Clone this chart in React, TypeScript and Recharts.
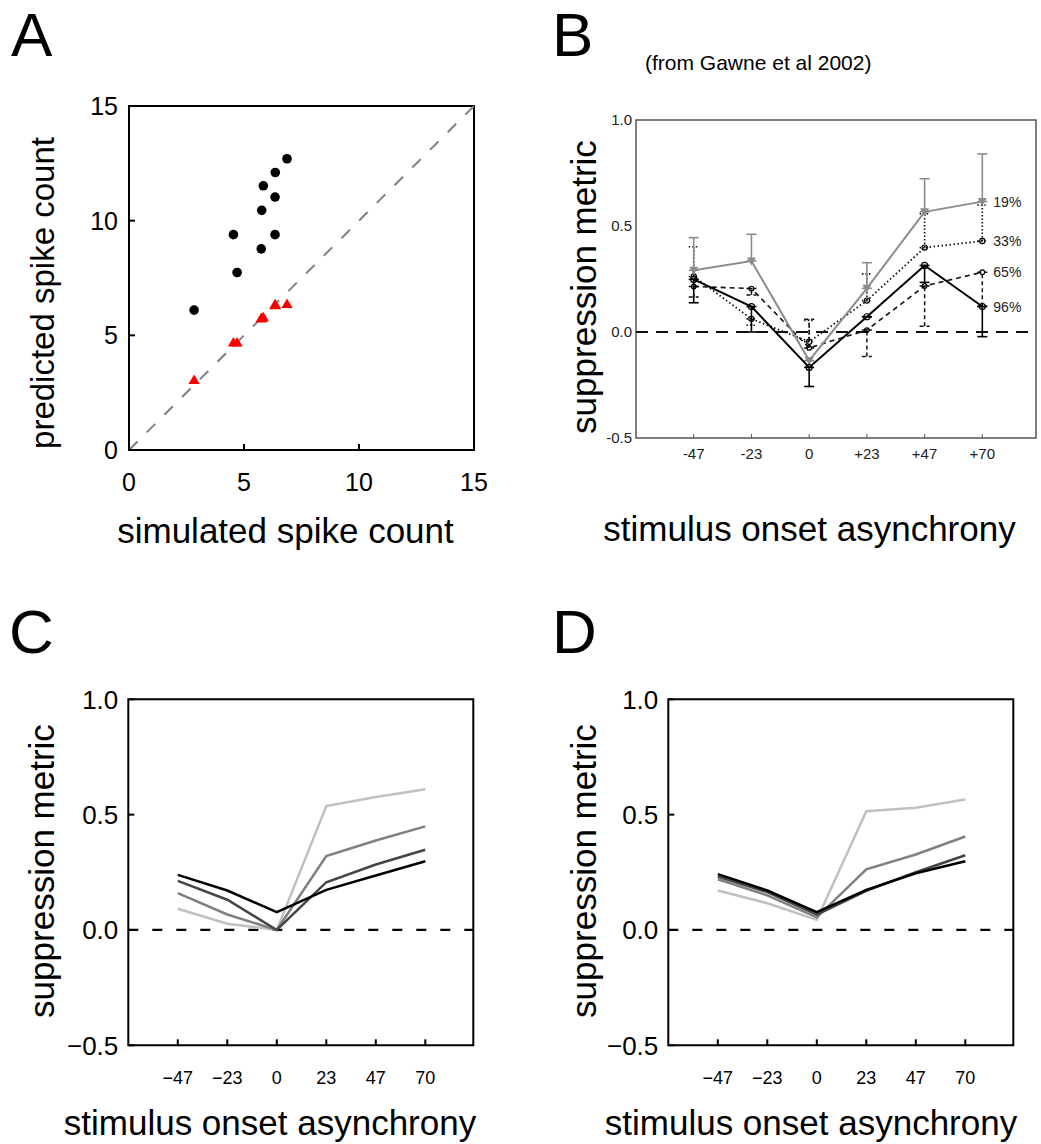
import React from 'react';
import {
  ScatterChart,
  Scatter,
  LineChart,
  Line,
  XAxis,
  YAxis,
  ReferenceLine,
  ReferenceArea,
  ErrorBar,
  LabelList,
} from 'recharts';

const FONT = '"Liberation Sans", Arial, Helvetica, sans-serif';

// ---------- Panel A: predicted vs simulated spike counts ----------
const simulatedCounts = [6.87, 6.36, 5.84, 6.35, 5.77, 4.54, 6.35, 5.75, 4.70, 2.83];
const predictedLinear = [12.7, 12.1, 11.52, 11.03, 10.45, 9.39, 9.39, 8.77, 7.74, 6.1];
const predictedNormalized = [6.38, 6.35, 5.8, 6.33, 5.75, 4.7, 6.36, 5.77, 4.7, 3.07];
const countTicks = [0, 5, 10, 15];

// ---------- Panel B: Gawne et al. 2002 ----------
const gawneAsynchrony = ['-47', '-23', '0', '+23', '+47', '+70'];
const gawneContrasts = ['19%', '33%', '65%', '96%'];
const gawne19 = [0.291, 0.335, -0.135, 0.206, 0.567, 0.615];
const gawne19Low = [0, 0, 0, 0, 0, 0];
const gawne19High = [0.154, 0.126, 0, 0.121, 0.156, 0.225];
const gawne33 = [0.262, 0.062, -0.046, 0.148, 0.398, 0.429];
const gawne33Low = [0, 0.03, 0, 0, 0, 0];
const gawne33High = [0.14, 0, 0.1, 0.126, 0.16, 0.17];
const gawne65 = [0.215, 0.205, -0.075, 0.009, 0.217, 0.282];
const gawne65Low = [0.05, 0.03, 0, 0.125, 0.19, 0.16];
const gawne65High = [0, 0, 0.135, 0, 0, 0];
const gawne96 = [0.248, 0.12, -0.167, 0.072, 0.314, 0.12];
const gawne96Low = [0.11, 0.12, 0.09, 0, 0.08, 0.142];
const gawne96High = [0, 0, 0, 0, 0, 0];
const metricTicks = [-0.5, 0, 0.5, 1.0];

// ---------- Panels C & D: model suppression metric ----------
const modelAsynchrony = ['\u221247', '\u221223', '0', '23', '47', '70'];
const modelC19 = [0.092, 0.027, 0.0, 0.537, 0.576, 0.61];
const modelC33 = [0.16, 0.067, 0.0, 0.32, 0.388, 0.449];
const modelC65 = [0.213, 0.131, 0.0, 0.207, 0.284, 0.348];
const modelC96 = [0.239, 0.171, 0.077, 0.174, 0.236, 0.298];
const modelD19 = [0.171, 0.116, 0.044, 0.515, 0.53, 0.566];
const modelD33 = [0.22, 0.15, 0.055, 0.263, 0.327, 0.405];
const modelD65 = [0.232, 0.164, 0.067, 0.17, 0.25, 0.324];
const modelD96 = [0.242, 0.171, 0.077, 0.174, 0.246, 0.298];

const contrastColors = ['#c0c0c0', '#808080', '#454545', '#000000'];

const scatterCircles = simulatedCounts.map((x, i) => ({ x, y: predictedLinear[i] }));
const scatterTriangles = simulatedCounts.map((x, i) => ({ x, y: predictedNormalized[i] }));

const gawneRows = gawneAsynchrony.map((_, i) => ({
  idx: i,
  c19: gawne19[i],
  c33: gawne33[i],
  c65: gawne65[i],
  c96: gawne96[i],
  e19: [gawne19Low[i], gawne19High[i]],
  e33: [gawne33Low[i], gawne33High[i]],
  e65: [gawne65Low[i], gawne65High[i]],
  e96: [gawne96Low[i], gawne96High[i]],
}));

const buildModelRows = (s19: number[], s33: number[], s65: number[], s96: number[]) =>
  modelAsynchrony.map((_, i) => ({ idx: i, c19: s19[i], c33: s33[i], c65: s65[i], c96: s96[i] }));

const rowsC = buildModelRows(modelC19, modelC33, modelC65, modelC96);
const rowsD = buildModelRows(modelD19, modelD33, modelD65, modelD96);
const indexTicks = [0, 1, 2, 3, 4, 5];

// ---------- text helpers ----------
const Letter = ({ ch, left, top }: { ch: string; left: number; top: number }) => (
  <div style={{ position: 'absolute', left, top, fontSize: 62, lineHeight: '70px' }}>{ch}</div>
);

const HTitle = ({ text, cx, top }: { text: string; cx: number; top: number }) => (
  <div
    style={{
      position: 'absolute',
      left: cx - 250,
      top,
      width: 500,
      textAlign: 'center',
      fontSize: 35,
      lineHeight: '40px',
      whiteSpace: 'nowrap',
    }}
  >
    {text}
  </div>
);

const VTitle = ({ text, cx, cy, size = 35 }: { text: string; cx: number; cy: number; size?: number }) => (
  <div
    style={{
      position: 'absolute',
      left: cx - 250,
      top: cy - 20,
      width: 500,
      height: 40,
      textAlign: 'center',
      fontSize: size,
      lineHeight: '40px',
      whiteSpace: 'nowrap',
      transform: 'rotate(-90deg)',
    }}
  >
    {text}
  </div>
);

// ---------- marker shapes ----------
const CircleMark = (props: any) => <circle cx={props.cx} cy={props.cy} r={4.8} fill="#000" />;
const TriangleMark = (props: any) => {
  const { cx, cy } = props;
  return <path d={`M${cx},${cy - 5.2} L${cx + 5.6},${cy + 4.3} L${cx - 5.6},${cy + 4.3} Z`} fill="#ff0000" />;
};
const downTriangleDot = (props: any) => {
  const { cx, cy, index } = props;
  return (
    <path
      key={`dt-${index}`}
      d={`M${cx - 4.5},${cy - 3.5} L${cx + 4.5},${cy - 3.5} L${cx},${cy + 4.5} Z`}
      fill="#8c8c8c"
    />
  );
};
const openDot = (r: number) => (props: any) => {
  const { cx, cy, index } = props;
  return <circle key={`od-${index}`} cx={cx} cy={cy} r={r} fill="none" stroke="#000" strokeWidth={1.2} />;
};
const endLabel = (text: string) => (props: any) => {
  const { x, y, index } = props;
  if (index !== gawneAsynchrony.length - 1) return null;
  return (
    <text x={Number(x) + 11} y={Number(y)} dy={5} fontSize={14} fill="#222" fontFamily={FONT}>
      {text}
    </text>
  );
};

const fmtMetric = (v: number) => (v < 0 ? '\u2212' + Math.abs(v).toFixed(1) : v.toFixed(1));

// ---------- panel C/D chart ----------
const ModelPanel = ({ rows, left, width, rightMargin }: { rows: any[]; left: number; width: number; rightMargin: number }) => (
  <div style={{ position: 'absolute', left, top: 680 }}>
    <LineChart
      width={width}
      height={464}
      data={rows}
      margin={{ top: 19.3, right: rightMargin, bottom: 58.7, left: 68.3 }}
    >
      <XAxis
        dataKey="idx"
        type="number"
        domain={[-1, 5.97]}
        ticks={indexTicks}
        tickFormatter={(v: number) => modelAsynchrony[v] ?? ''}
        height={40}
        axisLine={false}
        tickSize={-6}
        tickMargin={32}
        tickLine={{ stroke: '#000', strokeWidth: 2 }}
        tick={{ fontSize: 18, fill: '#000', fontFamily: FONT }}
      />
      <YAxis
        type="number"
        domain={[-0.5, 1.0]}
        ticks={metricTicks}
        tickFormatter={fmtMetric}
        width={60}
        axisLine={false}
        tickSize={-6}
        tickMargin={16}
        tickLine={{ stroke: '#000', strokeWidth: 2 }}
        tick={{ fontSize: 26, fill: '#000', fontFamily: FONT }}
      />
      <ReferenceArea x1={-1} x2={5.97} y1={-0.5} y2={1.0} fill="none" stroke="#000" strokeWidth={2} />
      <ReferenceLine y={0} stroke="#000" strokeWidth={2.2} strokeDasharray="10 14" />
      {['c19', 'c33', 'c65', 'c96'].map((key, i) => (
        <Line
          key={key}
          dataKey={key}
          name={gawneContrasts[i]}
          stroke={contrastColors[i]}
          strokeWidth={2.5}
          dot={false}
          type="linear"
          isAnimationActive={false}
        />
      ))}
    </LineChart>
  </div>
);

export default function App() {
  return (
    <div
      style={{
        position: 'absolute',
        left: 0,
        top: 0,
        width: 1041,
        height: 1144,
        background: '#fff',
        fontFamily: FONT,
        color: '#000',
        overflow: 'hidden',
      }}
    >
      {/* Panel A */}
      <div style={{ position: 'absolute', left: 0, top: 80 }}>
        <ScatterChart width={520} height={480} margin={{ top: 26, right: 46, bottom: 70, left: 69 }}>
          <XAxis
            dataKey="x"
            type="number"
            domain={[0, 15]}
            ticks={countTicks}
            height={40}
            axisLine={false}
            tickSize={-6}
            tickMargin={29}
            tickLine={{ stroke: '#000', strokeWidth: 2 }}
            tick={{ fontSize: 25, fill: '#000', fontFamily: FONT }}
          />
          <YAxis
            dataKey="y"
            type="number"
            domain={[0, 15]}
            ticks={countTicks}
            width={60}
            axisLine={false}
            tickSize={-6}
            tickMargin={17}
            tickLine={{ stroke: '#000', strokeWidth: 2 }}
            tick={{ fontSize: 25, fill: '#000', fontFamily: FONT }}
          />
          <ReferenceArea x1={0} x2={15} y1={0} y2={15} fill="none" stroke="#000" strokeWidth={2} />
          <ReferenceLine
            segment={[
              { x: 0, y: 0 },
              { x: 15, y: 15 },
            ]}
            stroke="#808080"
            strokeWidth={2}
            strokeDasharray="12 13"
          />
          <Scatter data={scatterCircles} shape={CircleMark} isAnimationActive={false} />
          <Scatter data={scatterTriangles} shape={TriangleMark} isAnimationActive={false} />
        </ScatterChart>
      </div>
      <Letter ch="A" left={11} top={0} />
      <VTitle text="predicted spike count" cx={43} cy={293} size={33} />
      <HTitle text="simulated spike count" cx={285.5} top={511} />

      {/* Panel B */}
      <div style={{ position: 'absolute', left: 560, top: 100 }}>
        <LineChart width={481} height={380} data={gawneRows} margin={{ top: 20, right: 5, bottom: 12, left: 36 }}>
          <XAxis
            dataKey="idx"
            type="number"
            domain={[-1, 5.93]}
            ticks={indexTicks}
            tickFormatter={(v: number) => gawneAsynchrony[v] ?? ''}
            height={30}
            axisLine={false}
            tickSize={-4}
            tickMargin={14}
            tickLine={{ stroke: '#555', strokeWidth: 1 }}
            tick={{ fontSize: 15, fill: '#222', fontFamily: FONT }}
          />
          <XAxis
            xAxisId="top"
            orientation="top"
            type="number"
            domain={[-1, 5.93]}
            allowDataOverflow
            ticks={indexTicks}
            height={0}
            axisLine={false}
            tick={false}
            tickSize={-4}
            tickLine={{ stroke: '#555', strokeWidth: 1 }}
          />
          <YAxis
            type="number"
            domain={[-0.5, 1.0]}
            ticks={metricTicks}
            tickFormatter={(v: number) => v.toFixed(1)}
            width={40}
            axisLine={false}
            tickLine={false}
            tickSize={0}
            tickMargin={4}
            tick={{ fontSize: 15, fill: '#222', fontFamily: FONT }}
          />
          <ReferenceArea x1={-1} x2={5.93} y1={-0.5} y2={1.0} fill="none" stroke="#555" strokeWidth={1.5} />
          <ReferenceLine y={0} stroke="#111" strokeWidth={2} strokeDasharray="12 8" />
          <Line
            dataKey="c65"
            stroke="#111"
            strokeWidth={1.6}
            strokeDasharray="5 4"
            dot={openDot(2.3)}
            isAnimationActive={false}
          >
            <ErrorBar dataKey="e65" width={5} stroke="#111" strokeWidth={1.5} strokeDasharray="4 3" direction="y" />
            <LabelList dataKey="c65" content={endLabel(gawneContrasts[2])} />
          </Line>
          <Line
            dataKey="c33"
            stroke="#111"
            strokeWidth={1.8}
            strokeDasharray="1.5 2.5"
            dot={openDot(2.6)}
            isAnimationActive={false}
          >
            <ErrorBar dataKey="e33" width={5} stroke="#111" strokeWidth={1.6} strokeDasharray="1.5 2" direction="y" />
            <LabelList dataKey="c33" content={endLabel(gawneContrasts[1])} />
          </Line>
          <Line dataKey="c19" stroke="#8c8c8c" strokeWidth={2} dot={downTriangleDot} isAnimationActive={false}>
            <ErrorBar dataKey="e19" width={5} stroke="#8c8c8c" strokeWidth={1.6} direction="y" />
            <LabelList dataKey="c19" content={endLabel(gawneContrasts[0])} />
          </Line>
          <Line dataKey="c96" stroke="#000" strokeWidth={2} dot={openDot(3)} isAnimationActive={false}>
            <ErrorBar dataKey="e96" width={5} stroke="#000" strokeWidth={1.6} direction="y" />
            <LabelList dataKey="c96" content={endLabel(gawneContrasts[3])} />
          </Line>
        </LineChart>
      </div>
      <Letter ch="B" left={552} top={0} />
      <div style={{ position: 'absolute', left: 645, top: 51, fontSize: 21, lineHeight: '24px', whiteSpace: 'nowrap' }}>
        (from Gawne et al 2002)
      </div>
      <VTitle text="suppression metric" cx={584} cy={287} />
      <HTitle text="stimulus onset asynchrony" cx={809.5} top={509} />

      {/* Panel C */}
      <ModelPanel rows={rowsC} left={0} width={520} rightMargin={46.7} />
      <Letter ch="C" left={9} top={596.5} />
      <VTitle text="suppression metric" cx={42} cy={871} />
      <HTitle text="stimulus onset asynchrony" cx={270} top={1103} />

      {/* Panel D */}
      <ModelPanel rows={rowsD} left={540} width={501} rightMargin={27.7} />
      <Letter ch="D" left={552} top={596.5} />
      <VTitle text="suppression metric" cx={584} cy={871} />
      <HTitle text="stimulus onset asynchrony" cx={811} top={1103} />
    </div>
  );
}
